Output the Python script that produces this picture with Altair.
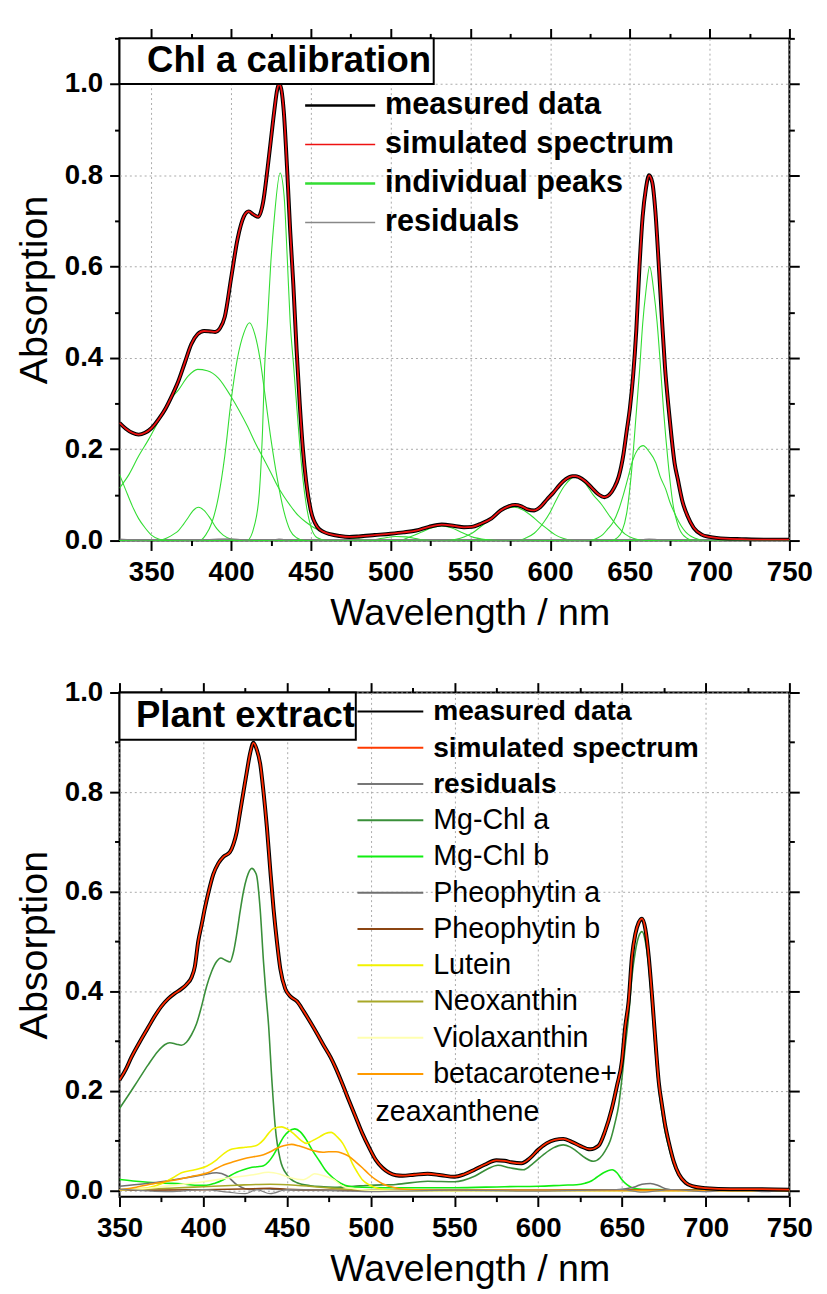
import altair as alt
import pandas as pd

# ---------------- data ----------------
TOP_MEASURED = [(330,0.258),(334,0.245),(338,0.236),(342,0.232),(346,0.236),(350,0.246),(355,0.268),(359,0.29),(363,0.318),(367,0.35),(371,0.39),(375,0.43),(379,0.452),(383,0.459),(387,0.458),(390,0.457),(393,0.465),(396,0.49),(400,0.575),(404,0.66),(408,0.71),(411,0.721),(414,0.714),(417,0.709),(420,0.74),(423,0.82),(425,0.88),(427,0.94),(429,0.99),(430,1.0),(431,0.995),(433,0.94),(435,0.82),(437,0.68),(439,0.56),(441,0.42),(443,0.3),(445,0.2),(447,0.13),(450,0.065),(454,0.03),(458,0.019),(462,0.014),(468,0.01),(474,0.008),(480,0.009),(490,0.012),(500,0.015),(508,0.018),(516,0.022),(524,0.03),(532,0.035),(540,0.032),(546,0.029),(551,0.03),(556,0.036),(563,0.048),(569,0.066),(574,0.075),(578,0.078),(582,0.075),(586,0.068),(590,0.066),(594,0.074),(598,0.09),(602,0.105),(606,0.122),(610,0.135),(614,0.141),(616,0.141),(618,0.139),(622,0.13),(626,0.116),(630,0.102),(634,0.095),(637,0.1),(640,0.115),(643,0.14),(646,0.19),(648,0.24),(650,0.29),(652,0.36),(654,0.46),(656,0.6),(658,0.71),(660,0.77),(662,0.8),(664,0.785),(666,0.72),(668,0.61),(670,0.49),(672,0.38),(674,0.3),(676,0.23),(678,0.17),(680,0.135),(683,0.085),(686,0.055),(690,0.028),(695,0.013),(700,0.008),(710,0.004),(720,0.003),(735,0.002),(750,0.002)]
TOP_SIMULATED = TOP_MEASURED  # the fit lies on top of the measurement
TOP_RESIDUALS = [(330,0.003),(360,-0.002),(400,0.004),(420,-0.004),(430,0.003),(440,-0.003),(460,0.001),(500,0.002),(550,-0.001),(600,0.002),(650,-0.003),(662,0.003),(680,-0.002),(700,0.001),(750,0.0)]
TOP_PEAKS = {
    "p1": [(330,0.145),(334,0.11),(338,0.076),(342,0.048),(346,0.028),(350,0.012),(355,0.003),(360,0.0),(750,0.0)],
    "p2": [(330,0.115),(336,0.145),(342,0.185),(348,0.22),(355,0.265),(361,0.305),(367,0.33),(373,0.36),(379,0.375),(385,0.372),(392,0.356),(400,0.315),(405,0.285),(410,0.252),(415,0.215),(421,0.175),(425,0.148),(429,0.12),(433,0.097),(437,0.077),(442,0.055),(447,0.04),(452,0.028),(458,0.018),(464,0.011),(472,0.006),(485,0.002),(500,0.0),(750,0.0)],
    "p3": [(330,0.0),(355,0.0),(360,0.006),(364,0.014),(367,0.022),(370,0.035),(373,0.05),(376,0.065),(379.5,0.073),(383,0.066),(387,0.048),(391,0.026),(395,0.012),(400,0.003),(405,0.0),(750,0.0)],
    "p4": [(330,0.0),(380,0.0),(384,0.012),(388,0.04),(392,0.095),(396,0.185),(400,0.307),(404,0.4),(408,0.455),(411.5,0.477),(415,0.45),(418,0.4),(421,0.325),(425,0.221),(429,0.134),(433,0.065),(437,0.022),(441,0.006),(446,0.0),(750,0.0)],
    "p5": [(330,0.0),(410,0.0),(414.6,0.033),(417.7,0.106),(419.7,0.242),(421,0.38),(422.8,0.48),(424.9,0.61),(427,0.704),(430.7,0.805),(433.2,0.755),(435.3,0.61),(437,0.48),(439,0.39),(441,0.3),(443,0.21),(445,0.135),(447,0.08),(450,0.03),(454,0.006),(460,0.0),(750,0.0)],
    "p6": [(330,0.0),(485,0.0),(495,0.005),(503,0.009),(510,0.008),(518,0.003),(525,0.0),(750,0.0)],
    "p7": [(330,0.0),(505,0.0),(512,0.008),(519,0.018),(526,0.028),(532,0.032),(538,0.028),(545,0.017),(552,0.007),(560,0.002),(568,0.0),(750,0.0)],
    "p8": [(330,0.0),(535,0.0),(541,0.003),(546,0.008),(551,0.016),(557,0.032),(563,0.048),(569,0.065),(577.5,0.073),(583,0.067),(588,0.055),(593,0.04),(598,0.026),(603,0.013),(608,0.005),(615,0.0),(750,0.0)],
    "p9": [(330,0.0),(580,0.0),(585,0.006),(590,0.016),(596,0.04),(600,0.062),(604,0.09),(609,0.12),(615.8,0.14),(622,0.125),(627,0.1),(632,0.08),(637,0.055),(642,0.032),(647,0.014),(652,0.005),(660,0.0),(750,0.0)],
    "p10": [(330,0.0),(625,0.0),(630,0.006),(633,0.013),(636,0.025),(639.5,0.04),(643,0.068),(645.7,0.098),(649,0.14),(651.9,0.177),(655,0.2),(658.3,0.208),(662,0.195),(666.3,0.17),(669,0.14),(672.5,0.112),(675,0.085),(678.7,0.055),(682,0.033),(684.9,0.019),(688,0.01),(691,0.005),(697,0.0),(750,0.0)],
    "p11": [(330,0.0),(638,0.0),(642,0.006),(645,0.02),(648,0.06),(651,0.15),(654,0.28),(656,0.37),(658,0.474),(660,0.545),(662.4,0.6),(665,0.545),(667,0.48),(669,0.39),(671,0.29),(674,0.17),(677,0.08),(680,0.035),(684,0.01),(690,0.0),(750,0.0)],
}

BOT_MEASURED = [(350,0.222),(354,0.245),(357,0.267),(362,0.298),(367,0.327),(371,0.35),(375,0.37),(379,0.385),(383,0.396),(387,0.405),(390,0.414),(393,0.428),(395,0.45),(397,0.5),(399,0.533),(401,0.567),(403,0.597),(406,0.635),(409,0.657),(412,0.67),(416,0.68),(418,0.695),(420,0.72),(422,0.76),(424,0.8),(426,0.84),(428,0.878),(430,0.899),(432,0.885),(434,0.857),(436,0.8),(438,0.73),(440,0.645),(442,0.565),(444,0.5),(446,0.446),(449,0.405),(452,0.39),(456,0.38),(460,0.36),(464,0.338),(468,0.315),(472,0.291),(476,0.268),(479,0.247),(483,0.215),(487,0.181),(491,0.148),(495,0.115),(499,0.087),(503,0.062),(507,0.046),(511,0.036),(515,0.031),(519,0.03),(526,0.032),(534,0.034),(542,0.031),(550,0.028),(556,0.033),(562,0.042),(568,0.052),(575,0.061),(580,0.06),(584,0.057),(590,0.055),(595,0.065),(600,0.082),(605,0.095),(610,0.102),(615,0.104),(620,0.098),(625,0.09),(631,0.083),(636,0.09),(640,0.12),(644,0.165),(647,0.21),(650,0.26),(652,0.33),(654,0.38),(656,0.47),(658,0.515),(660,0.538),(662,0.546),(664,0.525),(666,0.47),(668,0.39),(670,0.3),(672,0.218),(674,0.17),(676,0.128),(678,0.097),(681,0.058),(684,0.033),(688,0.016),(692,0.009),(700,0.005),(715,0.003),(730,0.003),(750,0.002)]
BOT_SIMULATED = BOT_MEASURED
BOT_RESIDUALS = [(350,0.003),(380,-0.002),(400,0.002),(415,-0.003),(425,-0.006),(432,0.002),(440,-0.006),(450,0.002),(470,0.001),(500,-0.002),(550,0.001),(600,-0.001),(650,0.002),(662,-0.003),(680,0.002),(700,-0.002),(720,0.003),(735,-0.002),(750,0.002)]
BOT_COMPONENTS = {
    "Mg-Chl a": [(350,0.165),(355,0.19),(361,0.221),(367,0.252),(373,0.28),(377,0.293),(380,0.297),(384,0.294),(387,0.292),(390,0.298),(393,0.313),(396,0.335),(399,0.37),(402,0.41),(405,0.44),(408,0.46),(410.5,0.467),(413,0.463),(416,0.459),(418,0.478),(420,0.515),(422,0.56),(424,0.6),(426,0.628),(429,0.647),(431,0.64),(432,0.631),(434,0.565),(436,0.459),(437.5,0.393),(439,0.333),(441,0.221),(443,0.128),(446,0.062),(450,0.032),(456,0.016),(464,0.01),(472,0.008),(480,0.007),(490,0.009),(500,0.011),(515,0.0125),(534,0.019),(550,0.018),(562,0.029),(570,0.044),(576,0.051),(583,0.046),(591,0.042),(597,0.055),(603,0.072),(609,0.086),(615,0.092),(619,0.088),(623,0.079),(628,0.066),(633,0.059),(637,0.066),(640,0.08),(643,0.1),(646,0.138),(648,0.17),(650,0.225),(652,0.29),(654,0.35),(656,0.43),(658,0.48),(660,0.51),(662,0.52),(664,0.5),(666,0.45),(668,0.37),(670,0.28),(672,0.205),(674,0.155),(676,0.115),(678,0.087),(681,0.052),(684,0.03),(688,0.015),(692,0.008),(700,0.004),(720,0.002),(750,0.001)],
    "Mg-Chl b": [(350,0.0225),(360,0.019),(367,0.017),(377,0.015),(387,0.014),(395,0.011),(402,0.011),(407,0.015),(412,0.022),(416,0.03),(420,0.037),(424,0.042),(428,0.046),(432,0.048),(436,0.05),(439,0.058),(442,0.072),(445,0.09),(448,0.108),(451,0.119),(454.7,0.124),(458,0.118),(461.6,0.102),(465,0.082),(469.5,0.059),(473,0.041),(477.4,0.026),(482,0.015),(487,0.009),(495,0.007),(520,0.006),(550,0.006),(580,0.008),(600,0.009),(615,0.011),(623,0.012),(628,0.015),(632,0.02),(635,0.027),(639,0.036),(644.2,0.042),(647,0.036),(650,0.022),(653,0.012),(656,0.006),(662,0.003),(680,0.002),(750,0.002)],
    "Pheophytin a": [(350,0.009),(365,0.014),(377,0.019),(390,0.026),(400,0.032),(408,0.036),(414,0.03),(420,0.012),(425,0.004),(430,0.002),(436,0.004),(442,0.003),(460,0.001),(500,0.0),(550,0.001),(600,0.001),(640,0.001),(650,0.003),(658,0.008),(662,0.013),(667,0.0145),(672,0.01),(676,0.004),(682,0.001),(750,0.0)],
    "Pheophytin b": [(350,0.001),(400,0.002),(430,0.004),(440,0.005),(450,0.003),(480,0.001),(550,0.001),(600,0.001),(650,0.002),(700,0.001),(750,0.0)],
    "Lutein": [(350,0.002),(360,0.004),(367,0.006),(375,0.014),(382,0.026),(387,0.036),(395,0.042),(402,0.049),(408,0.062),(412.5,0.075),(416,0.082),(420,0.085),(425,0.087),(430,0.089),(433,0.093),(436,0.102),(439,0.115),(442,0.125),(446.9,0.128),(450,0.124),(453.8,0.115),(458,0.102),(461.6,0.095),(465,0.1),(469.5,0.108),(473,0.115),(476.4,0.117),(480,0.108),(483.3,0.095),(486,0.078),(489,0.055),(492,0.037),(495,0.022),(499,0.012),(503,0.006),(510,0.002),(520,0.0),(750,0.0)],
    "Neoxanthin": [(350,0.002),(380,0.005),(400,0.008),(420,0.011),(440,0.013),(455,0.011),(470,0.007),(485,0.003),(500,0.001),(520,0.0),(750,0.0)],
    "Violaxanthin": [(350,0.002),(367,0.005),(385,0.012),(400,0.018),(416,0.026),(430,0.032),(439,0.037),(446,0.033),(452,0.026),(459.8,0.022),(463,0.027),(466.5,0.034),(472,0.03),(478,0.022),(483.3,0.009),(490,0.004),(500,0.001),(520,0.0),(750,0.0)],
    "betacarotene+": [(350,0.002),(360,0.007),(367,0.012),(377,0.018),(387,0.024),(395,0.03),(402.7,0.036),(408,0.045),(412.5,0.052),(418,0.058),(424.3,0.064),(430,0.068),(436,0.072),(440,0.078),(444,0.085),(448,0.09),(452.8,0.093),(457,0.09),(461.6,0.085),(466,0.08),(471.5,0.077),(475,0.078),(479.3,0.078),(483,0.075),(487,0.069),(491,0.058),(495,0.046),(499,0.033),(503,0.022),(507,0.014),(511,0.009),(520,0.003),(540,0.001),(750,0.0)],
}

TOP_LEGEND_LABELS = ["measured data", "simulated spectrum", "individual peaks", "residuals"]
BOT_LEGEND_LABELS = ["measured data", "simulated spectrum", "residuals", "Mg-Chl a", "Mg-Chl b",
                     "Pheophytin a", "Pheophytin b", "Lutein", "Neoxanthin", "Violaxanthin", "betacarotene+"]
TOP_BOX_TEXT = "Chl a calibration"
BOT_BOX_TEXT = "Plant extract"
WRAP_TEXT = "zeaxanthene"

X_TICKS_TOP = list(range(350, 751, 50))
X_MINOR_TOP = list(range(375, 751, 50))
X_TICKS_BOT = list(range(350, 751, 50))
X_MINOR_BOT = list(range(375, 751, 50))
Y_TICKS_TOP = [0.0, 0.2, 0.4, 0.6, 0.8, 1.0]
Y_MINOR_TOP = [0.1, 0.3, 0.5, 0.7, 0.9, 1.1]
Y_TICKS_BOT = [0.0, 0.2, 0.4, 0.6, 0.8, 1.0]
Y_MINOR_BOT = [0.1, 0.3, 0.5, 0.7, 0.9]

# ---------------- styles ----------------
FONT = "Liberation Sans"
GRID = "#a9a9a9"
TOP_LEGEND_COLORS = ["#000000", "#ee1111", "#33dd33", "#888888"]
TOP_LEGEND_WIDTHS = [2.5, 1.5, 2.5, 1.5]
BOT_LEGEND_COLORS = ["#000000", "#ff3a00", "#777777", "#3a8f3a", "#11ee11", "#707070",
                     "#8b4513", "#f2f200", "#a8a828", "#ffffb0", "#ff9a00"]
COMP_COLORS = BOT_LEGEND_COLORS[3:]


def to_long(series, prefix):
    rows = []
    for name, pts in series.items():
        for x, y in pts:
            rows.append({"series": prefix + name, "nm": x, "A": y})
    return pd.DataFrame(rows)


def x_axis(orient, vals, size, show, title=None):
    kw = dict(orient=orient, values=vals, tickSize=size, tickWidth=2, tickColor="black",
              domain=False, labelFlush=False, labelOverlap=False)
    if show:
        kw.update(labels=True, format="d", labelFont=FONT, labelFontSize=28, labelFontWeight="bold",
                  labelColor="black", labelBaseline="alphabetic", labelPadding=30,
                  grid=True, gridColor=GRID, gridDash=[2, 3], gridWidth=1,
                  title=title, titleFont=FONT, titleFontSize=38, titleFontWeight="normal",
                  titleColor="black", titleX=355, titleY=85, titleBaseline="alphabetic")
    else:
        kw.update(labels=False, grid=False, title=None)
    return alt.Axis(**kw)


def y_axis(orient, vals, size, show, title=None):
    kw = dict(orient=orient, values=vals, tickSize=size, tickWidth=2, tickColor="black",
              domain=False, labelFlush=False, labelOverlap=False)
    if show:
        kw.update(labels=True, format=".1f", labelFont=FONT, labelFontSize=28, labelFontWeight="bold",
                  labelColor="black", labelBaseline="middle", labelPadding=7,
                  grid=True, gridColor=GRID, gridDash=[2, 3], gridWidth=1,
                  title=title, titleFont=FONT, titleFontSize=40, titleFontWeight="normal",
                  titleColor="black", titleX=-74, titleBaseline="alphabetic")
    else:
        kw.update(labels=False, grid=False, title=None)
    return alt.Axis(**kw)


def panel(prefix, xs, ys, xt, xm, yt, ym, measured, simulated, residuals, parts, part_colors,
          part_width, sim_color, box, box_text, legend_labels, legend_colors, legend_widths,
          leg, height, bold_n, extra_text=None):
    meas_df = pd.DataFrame(measured, columns=["nm", "A"])
    sim_df = pd.DataFrame(simulated, columns=["nm", "A"])
    res_df = pd.DataFrame(residuals, columns=["nm", "A"])
    parts_df = to_long(parts, prefix)

    parts_layer = alt.Chart(parts_df).mark_line(interpolate="monotone", strokeWidth=part_width, clip=True).encode(
        x=alt.X("nm:Q", scale=xs, axis=x_axis("top", xm, 5, False)),
        y=alt.Y("A:Q", scale=ys, axis=y_axis("right", ym, 5, False)),
        color=alt.Color("series:N", scale=alt.Scale(domain=[prefix + k for k in parts.keys()],
                                                    range=part_colors), legend=None),
        detail="series:N",
    )
    res_layer = alt.Chart(res_df).mark_line(interpolate="monotone", strokeWidth=1.2, color="#808080", clip=True).encode(
        x=alt.X("nm:Q", scale=xs, axis=x_axis("bottom", xm, 5, False)),
        y=alt.Y("A:Q", scale=ys, axis=y_axis("left", ym, 5, False)),
    )
    meas_layer = alt.Chart(meas_df).mark_line(interpolate="monotone", strokeWidth=4, color="black", clip=True).encode(
        x=alt.X("nm:Q", scale=xs, axis=x_axis("bottom", xt, 10, True, "Wavelength / nm")),
        y=alt.Y("A:Q", scale=ys, axis=y_axis("left", yt, 10, True, "Absorption")),
    )
    sim_layer = alt.Chart(sim_df).mark_line(interpolate="monotone", strokeWidth=1.8, color=sim_color, clip=True).encode(
        x=alt.X("nm:Q", scale=xs, axis=x_axis("top", xt, 10, False)),
        y=alt.Y("A:Q", scale=ys, axis=y_axis("right", yt, 10, False)),
    )

    bx0, bx1, by0, by1, tx = box
    box_df = pd.DataFrame({"x0": [bx0], "x1": [bx1], "y0": [by0], "y1": [by1], "tx": [tx],
                           "ty": [(by0 + by1) / 2], "t": [box_text]})
    box_layer = alt.Chart(box_df).mark_rect(fill="white", stroke="black", strokeWidth=2).encode(
        x=alt.X("x0:Q", scale=xs, axis=None), x2="x1:Q",
        y=alt.Y("y0:Q", scale=ys, axis=None), y2="y1:Q",
    )
    box_txt = alt.Chart(box_df).mark_text(font=FONT, fontSize=37, fontWeight="bold", align="left",
                                          baseline="middle", color="black").encode(
        x=alt.X("tx:Q", scale=xs, axis=None), y=alt.Y("ty:Q", scale=ys, axis=None), text="t:N")

    lx0, lx1, ltx, ly0, lstep, lfs = leg
    leg_df = pd.DataFrame({"label": legend_labels, "color": legend_colors, "w": legend_widths,
                           "i": list(range(len(legend_labels)))})
    leg_base = alt.Chart(leg_df).transform_calculate(
        ly=f"{ly0} - datum.i * {lstep}", lx0=f"{lx0}", lx1=f"{lx1}", ltx=f"{ltx}")
    leg_rules = leg_base.mark_rule().encode(
        x=alt.X("lx0:Q", scale=xs, axis=None), x2="lx1:Q",
        y=alt.Y("ly:Q", scale=ys, axis=None),
        color=alt.Color("color:N", scale=None),
        strokeWidth=alt.StrokeWidth("w:Q", scale=None),
    )
    leg_bold = leg_base.transform_filter(f"datum.i < {bold_n}").mark_text(
        font=FONT, fontSize=lfs, fontWeight="bold", align="left", baseline="middle", color="black").encode(
        x=alt.X("ltx:Q", scale=xs, axis=None), y=alt.Y("ly:Q", scale=ys, axis=None), text="label:N")
    layers = [parts_layer, res_layer, meas_layer, sim_layer, box_layer, box_txt, leg_rules, leg_bold]
    if bold_n < len(legend_labels):
        leg_norm = leg_base.transform_filter(f"datum.i >= {bold_n}").mark_text(
            font=FONT, fontSize=29, fontWeight="normal", align="left", baseline="middle", color="black").encode(
            x=alt.X("ltx:Q", scale=xs, axis=None), y=alt.Y("ly:Q", scale=ys, axis=None), text="label:N")
        layers.append(leg_norm)
    if extra_text is not None:
        ex, ey, et = extra_text
        ex_df = pd.DataFrame({"x": [ex], "y": [ey], "t": [et]})
        layers.append(alt.Chart(ex_df).mark_text(font=FONT, fontSize=29, align="left", baseline="middle",
                                                 color="black").encode(
            x=alt.X("x:Q", scale=xs, axis=None), y=alt.Y("y:Q", scale=ys, axis=None), text="t:N"))

    return alt.layer(*layers).resolve_axis(x="independent", y="independent").properties(
        width=679, height=height)


top = panel(
    prefix="top_",
    xs=alt.Scale(domain=[330, 750], nice=False, zero=False),
    ys=alt.Scale(domain=[0, 1.1], nice=False, zero=False),
    xt=X_TICKS_TOP, xm=X_MINOR_TOP, yt=Y_TICKS_TOP, ym=Y_MINOR_TOP,
    measured=TOP_MEASURED, simulated=TOP_SIMULATED, residuals=TOP_RESIDUALS,
    parts=TOP_PEAKS, part_colors=["#33dd33"] * len(TOP_PEAKS), part_width=1.1,
    sim_color="#ee1111",
    box=(330, 527, 1.0, 1.1, 347.3), box_text=TOP_BOX_TEXT,
    legend_labels=TOP_LEGEND_LABELS, legend_colors=TOP_LEGEND_COLORS, legend_widths=TOP_LEGEND_WIDTHS,
    leg=(446.4, 490.3, 496.5, 0.953, 0.0855, 31), height=509, bold_n=4,
)

bottom = panel(
    prefix="bot_",
    xs=alt.Scale(domain=[350, 750], nice=False, zero=False),
    ys=alt.Scale(domain=[-0.012, 1.0], nice=False, zero=False),
    xt=X_TICKS_BOT, xm=X_MINOR_BOT, yt=Y_TICKS_BOT, ym=Y_MINOR_BOT,
    measured=BOT_MEASURED, simulated=BOT_SIMULATED, residuals=BOT_RESIDUALS,
    parts=BOT_COMPONENTS, part_colors=COMP_COLORS, part_width=1.6,
    sim_color="#ff2a00",
    box=(350, 491.1, 0.905, 1.0, 359.8), box_text=BOT_BOX_TEXT,
    legend_labels=BOT_LEGEND_LABELS, legend_colors=BOT_LEGEND_COLORS, legend_widths=[2] * len(BOT_LEGEND_LABELS),
    leg=(492.1, 531.4, 537.3, 0.9617, 0.07275, 28.5), height=511, bold_n=3,
    extra_text=(502.9, 0.158, WRAP_TEXT),
)

chart = alt.vconcat(top, bottom, spacing=45).resolve_scale(color="independent").properties(
    padding={"left": 6, "top": 10, "right": 5, "bottom": 5}
).configure_view(stroke="black", strokeWidth=2)

chart.save("out.html", embed_options={"renderer": "svg", "actions": False})
